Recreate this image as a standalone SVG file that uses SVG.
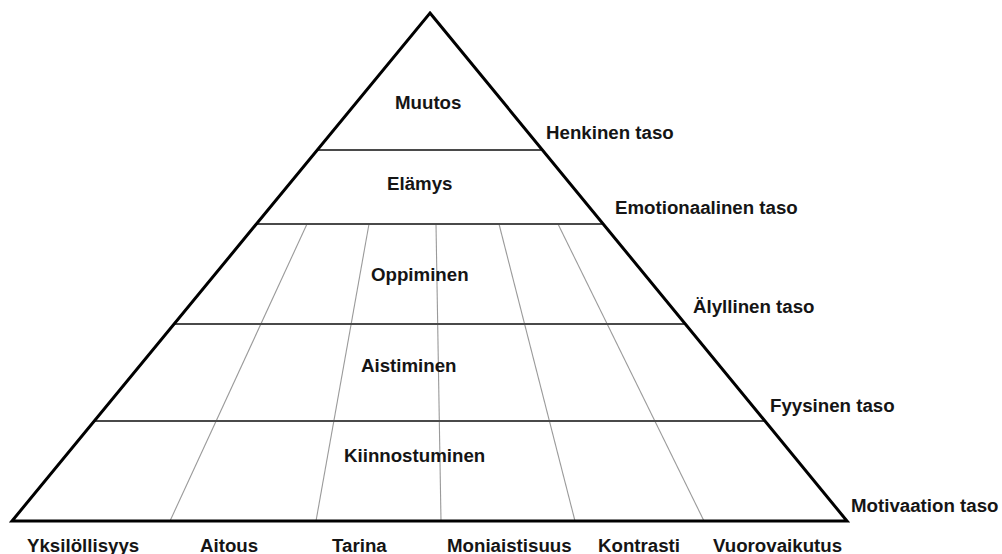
<svg xmlns="http://www.w3.org/2000/svg" width="1002" height="554" viewBox="0 0 1002 554">
<style>
  text { font-family: "Liberation Sans", Arial, sans-serif; font-weight: bold; font-size: 18.7px; fill: #151515; }
  .band { stroke: #4a4a4a; stroke-width: 2; fill: none; }
  .div { stroke: #9a9a9a; stroke-width: 1.1; fill: none; }
  .outline { stroke: #000; stroke-width: 3; fill: none; stroke-linejoin: miter; }
</style>
<rect width="1002" height="554" fill="#fff"/>
<g id="connectors">
  <line class="div" x1="307" y1="224" x2="170" y2="521"/>
  <line class="div" x1="369" y1="224" x2="316" y2="521"/>
  <line class="div" x1="436" y1="224" x2="441" y2="521"/>
  <line class="div" x1="499" y1="224" x2="575" y2="521"/>
  <line class="div" x1="558" y1="224" x2="704" y2="521"/>
  <line class="band" x1="317.3" y1="150" x2="542.5" y2="150"/>
  <line class="band" x1="256.4" y1="224" x2="603.2" y2="224"/>
  <line class="band" x1="174.1" y1="324" x2="685.3" y2="324"/>
  <line class="band" x1="94.3" y1="421" x2="764.9" y2="421"/>
</g>
<g id="pyramid">
  <polygon class="outline" points="430,13 847,521 12,521"/>
</g>
<g id="node-muutos"><text x="395" y="109">Muutos</text></g>
<g id="node-elamys"><text x="387" y="190">Elämys</text></g>
<g id="node-oppiminen"><text x="371" y="281">Oppiminen</text></g>
<g id="node-aistiminen"><text x="361" y="372">Aistiminen</text></g>
<g id="node-kiinnostuminen"><text x="344" y="462">Kiinnostuminen</text></g>
<g id="level-henkinen"><text x="546" y="139">Henkinen taso</text></g>
<g id="level-emotionaalinen"><text x="615" y="214">Emotionaalinen taso</text></g>
<g id="level-alyllinen"><text x="693" y="313">Älyllinen taso</text></g>
<g id="level-fyysinen"><text x="770" y="412">Fyysinen taso</text></g>
<g id="level-motivaatio"><text x="851" y="512">Motivaation taso</text></g>
<g id="col-yksilollisyys"><text x="27" y="552">Yksilöllisyys</text></g>
<g id="col-aitous"><text x="200" y="552">Aitous</text></g>
<g id="col-tarina"><text x="332" y="552">Tarina</text></g>
<g id="col-moniaistisuus"><text x="447" y="552">Moniaistisuus</text></g>
<g id="col-kontrasti"><text x="598" y="552">Kontrasti</text></g>
<g id="col-vuorovaikutus"><text x="713" y="552">Vuorovaikutus</text></g>
</svg>
